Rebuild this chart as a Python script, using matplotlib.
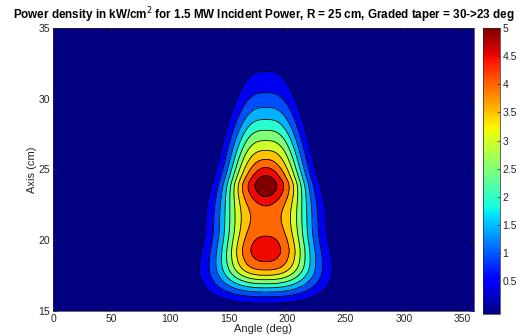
import numpy as np
import matplotlib
matplotlib.use("Agg")
import matplotlib.pyplot as plt
from matplotlib import colors

plt.rcParams['font.family'] = ['Liberation Sans', 'DejaVu Sans']

# -----------------------------
# grid (angle in deg, axial position in cm)
# -----------------------------
angles = np.arange(0, 361, 1.0)
axis_cm = np.arange(15, 35.001, 0.05)

# -----------------------------
# power density pattern, read off the picture as a few lobes:
# lower body, upper body, top cap, middle bridge, bottom skirt
# -----------------------------
blob_amp    = [4.12, 4.25, 0.55, 2.5, 0.3]
blob_theta  = [182, 182, 182, 182, 182]
blob_z      = [18.9, 24.2, 24.0, 21.7, 17.5]
blob_wth    = [30, 26, 7, 33, 42]
blob_wslope = [-1.5, -0.95, 0.0, 0.0, 0.0]   # deg of width per cm of axis
blob_pth    = [2.5, 2.9, 2.0, 3.0, 3.0]
blob_zdn    = [1.8, 1.31, 1.1, 1.4, 1.3]
blob_qdn    = [2.4, 1.9, 2.0, 2.0, 3.0]
blob_zup    = [1.6, 3.45, 1.1, 1.4, 1.8]
blob_qup    = [2.0, 1.8, 2.0, 2.0, 2.0]

levels = [-0.1, 0.5, 1.0, 1.5, 2.0, 2.5, 3.0, 3.5, 4.0, 4.5, 5.0, 6.0]
cbar_ticks = [0.5, 1, 1.5, 2, 2.5, 3, 3.5, 4, 4.5, 5]
x_ticks = [0, 50, 100, 150, 200, 250, 300, 350]
y_ticks = [15, 20, 25, 30, 35]

TH, ZZ = np.meshgrid(angles, axis_cm)
power = np.zeros_like(TH)
for a, tc, zc, wt, ws, pt, zd, qd, zu, qu in zip(blob_amp, blob_theta, blob_z, blob_wth, blob_wslope,
                                                 blob_pth, blob_zdn, blob_qdn, blob_zup, blob_qup):
    dz = ZZ - zc
    zpart = np.where(dz < 0, np.abs(dz / zd) ** qd, np.abs(dz / zu) ** qu)
    width = np.maximum(wt + ws * dz, 5.0)
    power += a * np.exp(-0.5 * np.abs((TH - tc) / width) ** pt - 0.5 * zpart)

# matlab style: each band filled with the colour of its lower level
band_colors = [plt.cm.jet(max(l, 0) / 5.0) for l in levels[:-1]]

fig = plt.figure(figsize=(5.27, 3.36), dpi=100)
ax = fig.add_axes([0.1006, 0.0744, 0.7988, 0.8423])
ax.contourf(angles, axis_cm, power, levels=levels, colors=band_colors)
ax.contour(angles, axis_cm, power, levels=levels[1:-1], colors='k', linewidths=0.6)

ax.set_xlim(0, 360)
ax.set_ylim(15, 35)
ax.set_xticks(x_ticks)
ax.set_yticks(y_ticks)
ax.tick_params(direction='in', top=True, right=True, length=3, width=0.5,
               labelsize=7.5, colors='#262626', pad=2)
for s in ax.spines.values():
    s.set_color('#262626')
    s.set_linewidth(0.5)
ax.set_xlabel('Angle (deg)', fontsize=8, color='#262626', labelpad=0)
ax.set_ylabel('Axis (cm)', fontsize=8, color='#262626', labelpad=1)
ax.set_title('Power density in kW/cm$^2$ for 1.5 MW Incident Power, R = 25 cm, Graded taper = 30->23 deg',
             fontsize=8.4, fontweight='bold', pad=6.5)

cax = fig.add_axes([0.9165, 0.0655, 0.032, 0.8512])
sm = plt.cm.ScalarMappable(norm=colors.Normalize(vmin=-0.08, vmax=5.0), cmap=plt.cm.jet)
cb = fig.colorbar(sm, cax=cax, ticks=cbar_ticks)
cb.ax.set_yticklabels(['0.5', '1', '1.5', '2', '2.5', '3', '3.5', '4', '4.5', '5'])
cb.ax.tick_params(direction='in', length=2.5, width=0.5, labelsize=7.5, colors='#262626', pad=2)
cb.outline.set_edgecolor('#262626')
cb.outline.set_linewidth(0.5)

fig.savefig('out.png', dpi=100)
